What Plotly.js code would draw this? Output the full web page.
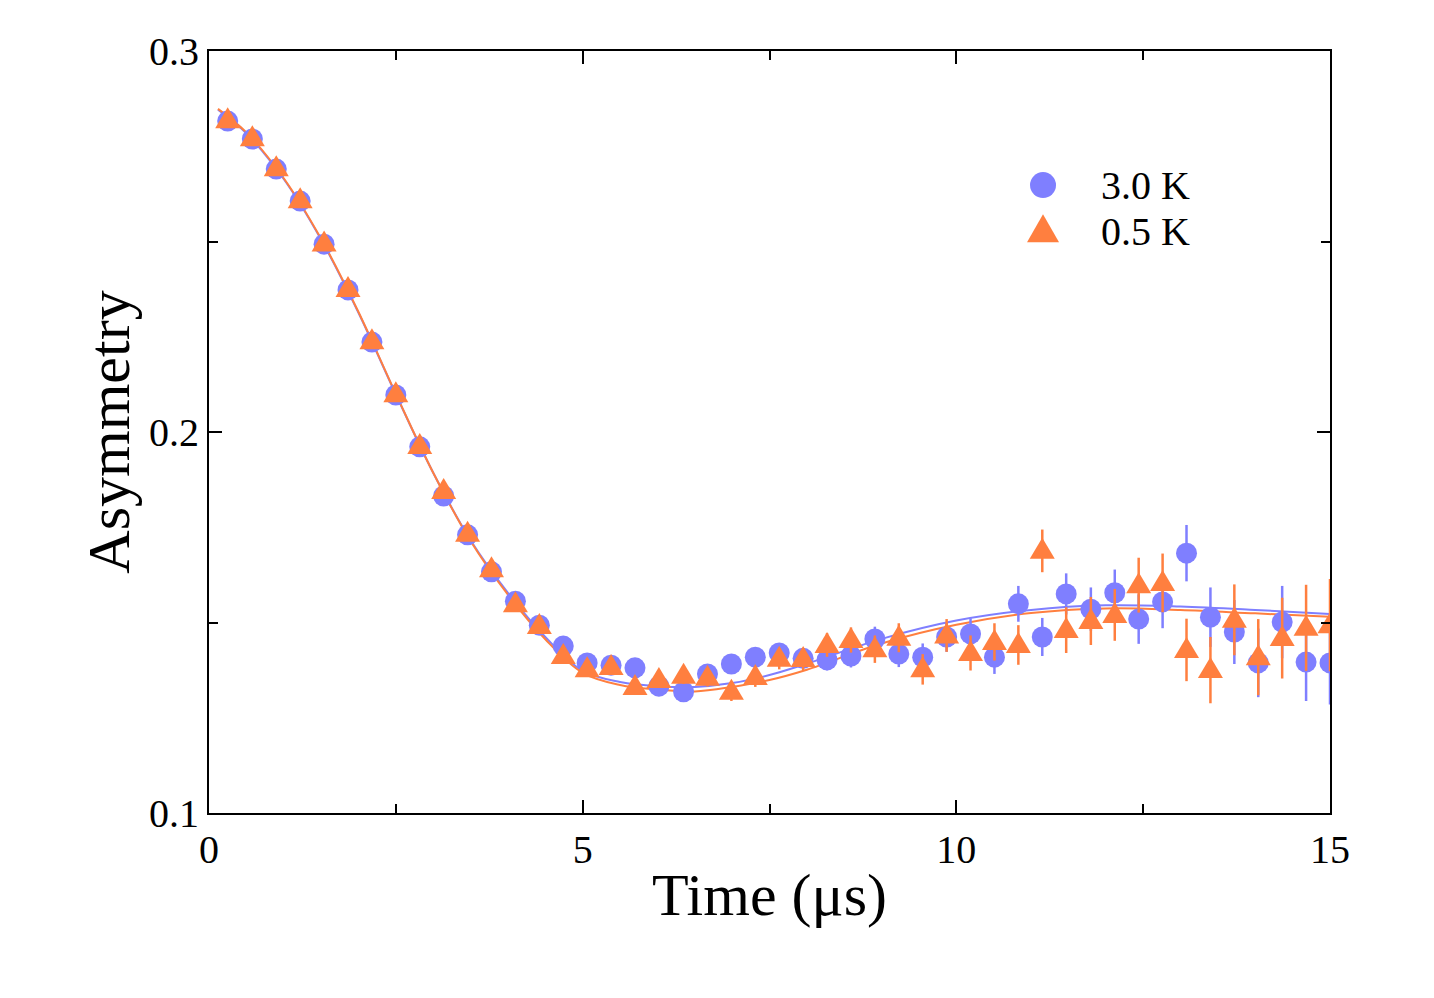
<!DOCTYPE html>
<html>
<head>
<meta charset="utf-8">
<script src="https://cdn.plot.ly/plotly-3.0.1.min.js"></script>
<style>
  html, body { margin: 0; padding: 0; background: #fff; }
  #plot { width: 1434px; height: 998px; }
</style>
</head>
<body>
<div id="plot"></div>
<script>
// Muon time grid (μs)
const time = [0.25, 0.58, 0.90, 1.22, 1.54, 1.86, 2.18, 2.50, 2.82, 3.14, 3.46, 3.78, 4.10, 4.42, 4.74,
  5.06, 5.38, 5.70, 6.02, 6.35, 6.67, 6.99, 7.31, 7.63, 7.95, 8.27, 8.59, 8.91, 9.23, 9.55, 9.87,
  10.19, 10.51, 10.83, 11.15, 11.47, 11.80, 12.12, 12.44, 12.76, 13.08, 13.40, 13.72, 14.04, 14.36, 14.68, 15.00];

// Asymmetry at 3.0 K
const asym30 = [0.2816, 0.2769, 0.2690, 0.2606, 0.2493, 0.2373, 0.2236, 0.2097, 0.1961, 0.1832, 0.1730,
  0.1633, 0.1556, 0.1493, 0.1438, 0.1394, 0.1388, 0.1381, 0.1333, 0.1318, 0.1365, 0.1391, 0.1409,
  0.1420, 0.1406, 0.1402, 0.1412, 0.1457, 0.1417, 0.1409, 0.1462, 0.1470, 0.1409, 0.1549, 0.1462,
  0.1575, 0.1535, 0.1578, 0.1509, 0.1554, 0.1682, 0.1514, 0.1475, 0.1394, 0.1501, 0.1396, 0.1394];
const err30 = [0.0005, 0.0006, 0.0006, 0.0007, 0.0007, 0.0008, 0.0008, 0.0009, 0.0010, 0.0010, 0.0011,
  0.0012, 0.0013, 0.0013, 0.0014, 0.0015, 0.0016, 0.0017, 0.0018, 0.0019, 0.0021, 0.0022, 0.0023,
  0.0025, 0.0026, 0.0028, 0.0030, 0.0032, 0.0034, 0.0036, 0.0039, 0.0041, 0.0044, 0.0047, 0.0050,
  0.0054, 0.0057, 0.0061, 0.0065, 0.0069, 0.0074, 0.0078, 0.0084, 0.0090, 0.0095, 0.0102, 0.0109];

// Asymmetry at 0.5 K
const asym05 = [0.2818, 0.2771, 0.2692, 0.2608, 0.2495, 0.2375, 0.2238, 0.2099, 0.1963, 0.1845, 0.1733,
  0.1640, 0.1548, 0.1491, 0.1412, 0.1377, 0.1383, 0.1331, 0.1349, 0.1360, 0.1355, 0.1318, 0.1357,
  0.1405, 0.1404, 0.1441, 0.1454, 0.1430, 0.1460, 0.1377, 0.1466, 0.1420, 0.1449, 0.1441, 0.1688,
  0.1480, 0.1504, 0.1520, 0.1598, 0.1604, 0.1428, 0.1375, 0.1507, 0.1409, 0.1459, 0.1486, 0.1493];
const err05 = [0.0006, 0.0007, 0.0007, 0.0008, 0.0008, 0.0009, 0.0009, 0.0010, 0.0011, 0.0011, 0.0012,
  0.0013, 0.0014, 0.0015, 0.0015, 0.0017, 0.0018, 0.0019, 0.0020, 0.0021, 0.0023, 0.0024, 0.0026,
  0.0028, 0.0029, 0.0031, 0.0033, 0.0036, 0.0038, 0.0040, 0.0043, 0.0046, 0.0049, 0.0052, 0.0056,
  0.0060, 0.0063, 0.0068, 0.0072, 0.0077, 0.0082, 0.0087, 0.0093, 0.0100, 0.0106, 0.0113, 0.0121];

// Fitted relaxation curves
const fitTime = [0.12, 0.5, 1.0, 1.5, 2.0, 2.5, 3.0, 3.5, 4.0, 4.5, 5.0, 5.5, 6.0, 6.5, 7.0, 7.5, 8.0,
  9.0, 10.0, 11.0, 12.0, 13.0, 14.0, 15.0];
const fit30 = [0.2846, 0.2784, 0.2664, 0.2505, 0.2313, 0.2099, 0.1893, 0.1716, 0.1578, 0.1462, 0.1373,
  0.1344, 0.1333, 0.1331, 0.1341, 0.1362, 0.1392, 0.1457, 0.1505, 0.1533, 0.1545, 0.1542, 0.1533, 0.1522];
const fit05 = [0.2848, 0.2786, 0.2666, 0.2507, 0.2315, 0.2100, 0.1893, 0.1714, 0.1573, 0.1456, 0.1368,
  0.1336, 0.1324, 0.1319, 0.1331, 0.1349, 0.1376, 0.1445, 0.1494, 0.1525, 0.1537, 0.1533, 0.1524, 0.1515];

const seriesNames = ['3.0 K', '0.5 K'];
const BLUE = '#7f7fff';
const ORANGE = '#ff7f3f';
const SERIF = 'Liberation Serif, Times New Roman, serif';

const traces = [
  { x: fitTime, y: fit30, mode: 'lines', line: { color: BLUE, width: 2, shape: 'spline' },
    showlegend: false, hoverinfo: 'skip' },
  { x: fitTime, y: fit05, mode: 'lines', line: { color: ORANGE, width: 2, shape: 'spline' },
    showlegend: false, hoverinfo: 'skip' },
  { x: time, y: asym30, name: seriesNames[0], mode: 'markers',
    marker: { symbol: 'circle', size: 21, color: BLUE },
    error_y: { type: 'data', array: err30, visible: true, color: BLUE, thickness: 2.5, width: 0 },
    showlegend: false },
  { x: time, y: asym05, name: seriesNames[1], mode: 'markers',
    marker: { symbol: 'triangle-up', size: 22, color: ORANGE },
    error_y: { type: 'data', array: err05, visible: true, color: ORANGE, thickness: 2.5, width: 0 },
    showlegend: false },
  // legend keys
  { x: [11.16], y: [0.2648], mode: 'markers', marker: { symbol: 'circle', size: 26, color: BLUE },
    showlegend: false, hoverinfo: 'skip', cliponaxis: false },
  { x: [11.16], y: [0.2527], mode: 'markers', marker: { symbol: 'triangle-up', size: 28, color: ORANGE },
    showlegend: false, hoverinfo: 'skip', cliponaxis: false }
];

const axisCommon = {
  showgrid: false, zeroline: false, showline: true, linecolor: '#000', linewidth: 2,
  mirror: 'ticks', ticks: 'inside', ticklen: 13, tickwidth: 2, tickcolor: '#000',
  tickfont: { family: SERIF, size: 40, color: '#000' }
};

const layout = {
  width: 1434, height: 998,
  margin: { l: 209, r: 104, t: 51, b: 185 },
  paper_bgcolor: '#fff', plot_bgcolor: '#fff',
  showlegend: false,
  xaxis: Object.assign({}, axisCommon, {
    range: [0, 15], tickvals: [0, 5, 10, 15], ticktext: ['0', '5', '10', '15'],
    minor: { tickvals: [2.5, 7.5, 12.5], ticks: 'inside', ticklen: 9, tickwidth: 2, tickcolor: '#000' },
    title: { text: 'Time (μs)', font: { family: SERIF, size: 60, color: '#000' }, standoff: 2 }
  }),
  yaxis: Object.assign({}, axisCommon, {
    range: [0.1, 0.3], tickvals: [0.1, 0.2, 0.3], ticktext: ['0.1', '0.2', '0.3'],
    minor: { tickvals: [0.15, 0.25], ticks: 'inside', ticklen: 9, tickwidth: 2, tickcolor: '#000' },
    title: { text: 'Asymmetry', font: { family: SERIF, size: 60, color: '#000' }, standoff: 0 }
  }),
  annotations: [
    { x: 11.91, y: 0.2648, xref: 'x', yref: 'y', text: seriesNames[0], showarrow: false,
      xanchor: 'left', yanchor: 'middle', font: { family: SERIF, size: 40, color: '#000' } },
    { x: 11.91, y: 0.2527, xref: 'x', yref: 'y', text: seriesNames[1], showarrow: false,
      xanchor: 'left', yanchor: 'middle', font: { family: SERIF, size: 40, color: '#000' } }
  ]
};

// Reshape triangle markers to a taller, near-equilateral outline
function reshapeTriangles(gd) {
  const groups = gd.querySelectorAll('.scatterlayer .trace');
  const setPath = (g, d) => g && g.querySelectorAll('path.point').forEach(p => p.setAttribute('d', d));
  setPath(groups[3], 'M-12.5,8H12.5L0,-13Z');
  setPath(groups[5], 'M-16,11H16L0,-17Z');
}

Plotly.newPlot('plot', traces, layout, { staticPlot: true }).then(reshapeTriangles);
</script>
</body>
</html>
